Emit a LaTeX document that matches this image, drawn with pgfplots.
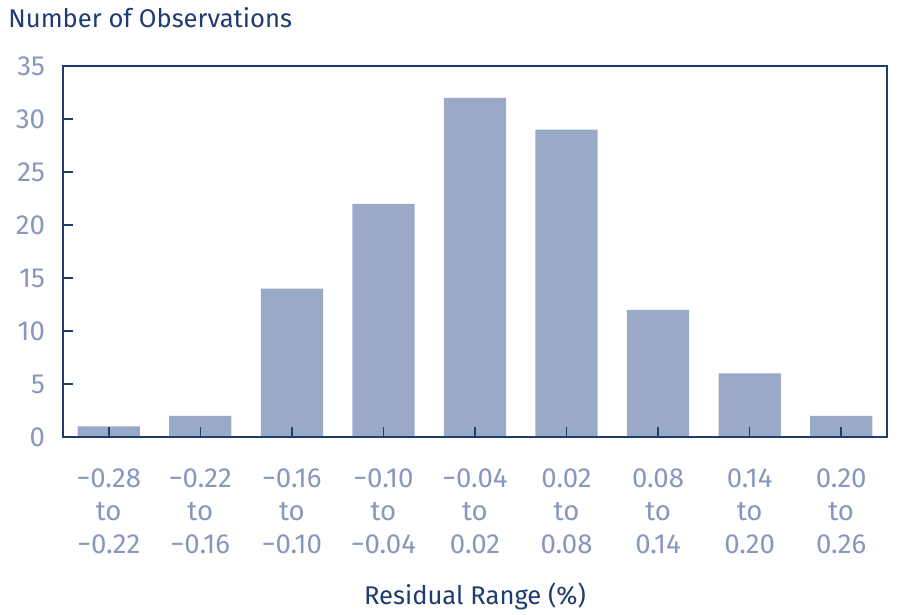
\documentclass[border=0pt]{standalone}
\usepackage{fontspec}
\setmainfont{Fira Sans}
\usepackage{pgfplots}
\pgfplotsset{compat=1.18}
\definecolor{navy}{HTML}{1E3C6E}
\definecolor{ticklab}{HTML}{8A97BC}
\definecolor{barfill}{HTML}{9BA9C8}
\begin{document}
\begin{tikzpicture}
\useasboundingbox (0,0) rectangle (450pt,307.5pt);
\node[anchor=west, text=navy, font=\fontsize{12.8}{15}\selectfont, inner sep=0pt] at (4pt,298.5pt) {Number of Observations};
\begin{axis}[
  at={(31.5pt,89pt)}, anchor=south west,
  scale only axis, width=412pt, height=185.5pt,
  xmin=-0.5, xmax=8.5, ymin=0, ymax=35,
  ytick={0,5,...,35},
  xtick={0,...,8},
  xticklabels={{−0.28\\to\\−0.22},{−0.22\\to\\−0.16},{−0.16\\to\\−0.10},{−0.10\\to\\−0.04},{−0.04\\to\\0.02},{0.02\\to\\0.08},{0.08\\to\\0.14},{0.14\\to\\0.20},{0.20\\to\\0.26}},
  axis line style={navy, line width=1pt},
  tick style={navy, line width=0.75pt},
  major tick length=5pt,
  tick align=inside,
  xtick pos=bottom, ytick pos=left,
  axis on top,
  /pgf/number format/assume math mode=true,
  tick label style={text=ticklab, font=\fontsize{13.8}{16.5}\selectfont},
  x tick label style={align=center, yshift=-12.5pt},
  y tick label style={xshift=-5.5pt},
  xlabel={Residual Range (\%)},
  xlabel style={text=navy, font=\fontsize{12.8}{15}\selectfont, yshift=-7.5pt},
]
\addplot[ybar, bar width=0.68, fill=barfill, draw=none] coordinates {
 (0,1) (1,2) (2,14) (3,22) (4,32) (5,29) (6,12) (7,6) (8,2)};
\end{axis}
\end{tikzpicture}
\end{document}
